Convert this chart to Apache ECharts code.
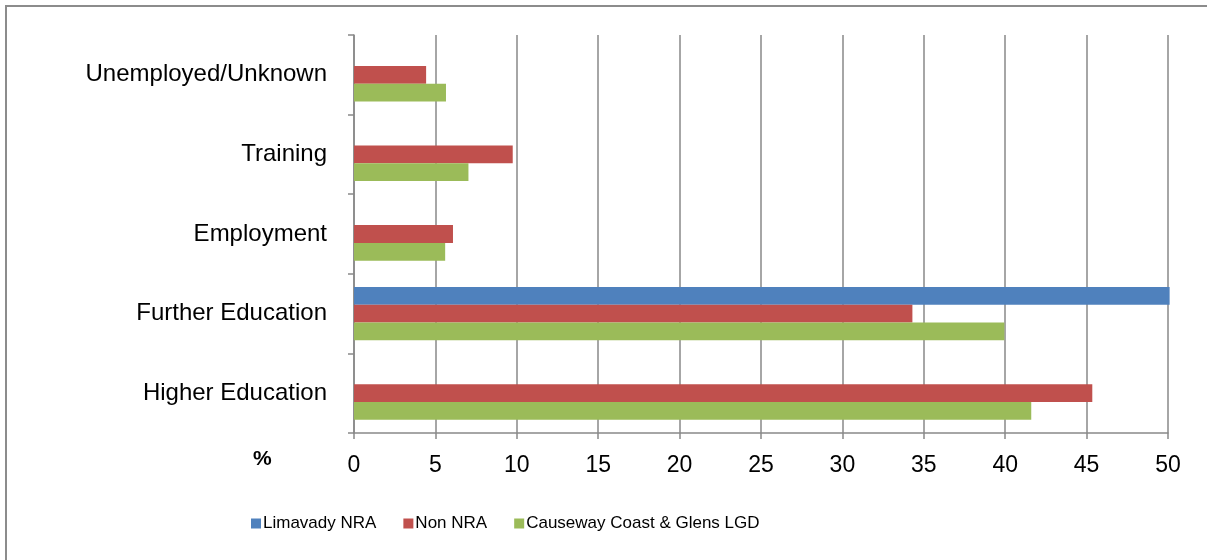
<!DOCTYPE html>
<html>
<head>
<meta charset="utf-8">
<script src="https://cdn.jsdelivr.net/npm/echarts@6/dist/echarts.min.js"></script>
<style>
  html, body { margin: 0; padding: 0; background: #fff; }
  #chart { width: 1207px; height: 560px; }
</style>
</head>
<body>
<div id="chart"></div>
<script>
// categories bottom to top (category axis starts at the bottom)
const categories = ['Higher Education', 'Further Education', 'Employment', 'Training', 'Unemployed/Unknown']
const seriesNames = ['Limavady NRA', 'Non NRA', 'Causeway Coast & Glens LGD']
const limavady = [null, 50.1, null, null, null]
const nonNra = [45.35, 34.3, 6.08, 9.75, 4.43]
const causeway = [41.6, 39.95, 5.6, 7.03, 5.65]
const xTicks = { min: 0, max: 50, interval: 5 }

const colors = ['#4f81bd', '#c0504d', '#9bbb59']
const font = 'Liberation Sans'
const lineGray = '#898989'

const myChart = echarts.init(document.getElementById('chart'))
myChart.setOption({
  animation: false,
  color: colors,
  textStyle: { fontFamily: font },
  grid: { left: 354, right: 39, top: 35, bottom: 127, containLabel: false },
  legend: {
    left: 246,
    top: 510,
    itemWidth: 10,
    itemHeight: 10,
    itemGap: 27,
    icon: 'rect',
    textStyle: { fontSize: 17, color: '#000', fontFamily: font, padding: [0, 0, 0, -3] },
    data: seriesNames
  },
  xAxis: {
    type: 'value',
    min: xTicks.min,
    max: xTicks.max,
    interval: xTicks.interval,
    axisLine: { show: true, lineStyle: { color: lineGray, width: 1.5 } },
    axisTick: { show: true, length: 6, lineStyle: { color: lineGray, width: 1.5 } },
    splitLine: { show: true, lineStyle: { color: lineGray, width: 1.5 } },
    axisLabel: { fontSize: 23, color: '#000', margin: 21 }
  },
  yAxis: {
    type: 'category',
    data: categories,
    axisLine: { show: true, lineStyle: { color: lineGray, width: 1.5 } },
    axisTick: { show: true, length: 6, lineStyle: { color: lineGray, width: 1.5 } },
    axisLabel: { fontSize: 24, color: '#000', margin: 27 }
  },
  graphic: [
    {
      type: 'rect',
      shape: { x: 6, y: 6, width: 1220, height: 580 },
      style: { fill: 'none', stroke: '#8c8c8c', lineWidth: 2 }
    },
    {
      type: 'text',
      left: 253,
      top: 449,
      style: { text: '%', fontSize: 21, fontWeight: 'bold', fill: '#000', fontFamily: font }
    }
  ],
  series: [
    { name: seriesNames[0], type: 'bar', data: limavady, barGap: '0%', barCategoryGap: '33%', clip: false },
    { name: seriesNames[1], type: 'bar', data: nonNra, barGap: '0%', barCategoryGap: '33%' },
    { name: seriesNames[2], type: 'bar', data: causeway, barGap: '0%', barCategoryGap: '33%' }
  ]
})
</script>
</body>
</html>
